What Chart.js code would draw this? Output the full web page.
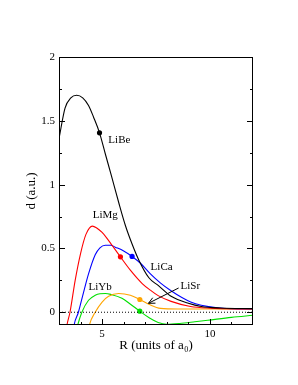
<!DOCTYPE html>
<html>
<head>
<meta charset="utf-8">
<script src="https://cdn.jsdelivr.net/npm/chart.js@4"></script>
<style>body{margin:0;background:#fff}</style>
</head>
<body>
<canvas id="c" width="298" height="385"></canvas>
<script>
// LiBe (black)
const beX = [3.0, 3.28, 3.55, 3.82, 4.1, 4.37, 4.6, 4.88, 5.15, 5.43, 5.77, 6.08, 6.39, 6.7, 7.17, 7.6, 7.94, 8.2, 9.0, 9.6, 10.5, 12];
const beY = [1.36, 1.60, 1.68, 1.70, 1.68, 1.62, 1.53, 1.406, 1.24, 1.07, 0.86, 0.68, 0.535, 0.41, 0.27, 0.21, 0.16, 0.125, 0.07, 0.045, 0.033, 0.028];
// LiMg (red)
const mgX = [3.2, 3.37, 3.51, 3.75, 4.0, 4.25, 4.55, 4.75, 5.0, 5.2, 5.46, 5.85, 6.31, 6.86, 7.24, 7.6, 8.2, 9.1, 10, 12];
const mgY = [-0.3, -0.1, 0, 0.25, 0.46, 0.61, 0.675, 0.66, 0.625, 0.585, 0.525, 0.434, 0.33, 0.225, 0.173, 0.13, 0.085, 0.045, 0.032, 0.025];
// LiCa (blue)
const caX = [3.55, 3.7, 3.9, 4.1, 4.37, 4.68, 4.9, 5.15, 5.4, 5.61, 6.0, 6.39, 6.78, 7.24, 7.7, 8.18, 8.7, 9.11, 9.6, 10.35, 11, 12];
const caY = [-0.3, -0.1, 0, 0.13, 0.30, 0.45, 0.505, 0.525, 0.525, 0.51, 0.48, 0.437, 0.384, 0.30, 0.23, 0.17, 0.115, 0.08, 0.055, 0.035, 0.028, 0.025];
// LiSr (orange)
const srX = [4.2, 4.41, 4.68, 5.0, 5.3, 5.77, 6.31, 6.75, 7.2, 7.71, 8.5, 10, 12];
const srY = [-0.3, -0.1, 0, 0.08, 0.125, 0.147, 0.133, 0.10, 0.06, 0.03, 0.025, 0.025, 0.025];
// LiYb (green)
const ybX = [3.6, 3.87, 4.06, 4.37, 4.68, 4.9, 5.15, 5.4, 5.92, 6.3, 6.75, 7.2, 7.6, 8.0, 8.6, 9.3, 9.9, 11, 12];
const ybY = [-0.3, -0.1, 0, 0.094, 0.133, 0.145, 0.147, 0.14, 0.11, 0.065, 0.008, -0.045, -0.08, -0.094, -0.088, -0.075, -0.063, -0.04, -0.024];
// marked points
const markX = [4.88, 5.85, 6.39, 6.75, 6.75];
const markY = [1.406, 0.434, 0.437, 0.10, 0.008];
const markColors = ['#000000', '#ff0000', '#0000ff', '#ffa500', '#00e000'];
// zero reference line
const zeroX = [3, 12];
const zeroY = [0, 0];
// tick labels
const xTicks = [5, 10];
const yTicks = [0, 0.5, 1, 1.5, 2];

const pts = (xs, ys) => xs.map((v, i) => ({x: v, y: ys[i]}));
const curve = (xs, ys, color) => ({
  data: pts(xs, ys), showLine: true, borderColor: color, borderWidth: 1.1,
  pointRadius: 0, cubicInterpolationMode: 'monotone', fill: false
});

const serif = '"Liberation Serif", "DejaVu Serif", serif';

const notes = [
  {t: 'LiBe', x: 5.29, y: 1.35, align: 'left'},
  {t: 'LiMg', x: 5.15, y: 0.76, align: 'center'},
  {t: 'LiYb', x: 4.91, y: 0.196, align: 'center'},
  {t: 'LiCa', x: 7.76, y: 0.354, align: 'center'},
  {t: 'LiSr', x: 8.64, y: 0.204, align: 'left'}
];

const frame = {
  id: 'frame',
  afterDatasetsDraw(chart) {
    const {ctx, chartArea: a, scales: {x, y}} = chart;
    ctx.save();
    ctx.strokeStyle = '#000';
    ctx.lineWidth = 1;
    ctx.strokeRect(a.left + 0.5, a.top + 0.5, a.right - a.left - 1, a.bottom - a.top - 1);
    ctx.beginPath();
    for (let v = 4; v < 12; v++) {
      const p = Math.round(x.getPixelForValue(v)) + 0.5;
      const l = v % 5 ? 3 : 6;
      ctx.moveTo(p, a.bottom); ctx.lineTo(p, a.bottom - l);
    }
    for (let i = 0; i < 8; i++) {
      const p = Math.round(y.getPixelForValue(i * 0.25)) + 0.5;
      const l = i % 2 ? 3 : 6;
      ctx.moveTo(a.left, p); ctx.lineTo(a.left + l, p);
      ctx.moveTo(a.right, p); ctx.lineTo(a.right - l, p);
    }
    ctx.stroke();

    ctx.fillStyle = '#000';
    ctx.font = '11px ' + serif;
    ctx.textBaseline = 'middle';
    notes.forEach(n => {
      ctx.textAlign = n.align;
      ctx.fillText(n.t, x.getPixelForValue(n.x), y.getPixelForValue(n.y));
    });

    // arrow from LiSr label to its curve
    const x0 = x.getPixelForValue(8.55), y0 = y.getPixelForValue(0.19);
    const x1 = x.getPixelForValue(7.15), y1 = y.getPixelForValue(0.07);
    const ang = Math.atan2(y1 - y0, x1 - x0);
    ctx.beginPath();
    ctx.moveTo(x0, y0); ctx.lineTo(x1, y1);
    [-0.45, 0.45].forEach(d => {
      ctx.moveTo(x1, y1);
      ctx.lineTo(x1 - 7 * Math.cos(ang + d), y1 - 7 * Math.sin(ang + d));
    });
    ctx.stroke();
    ctx.restore();
  }
};

new Chart(document.getElementById('c'), {
  type: 'scatter',
  data: {
    datasets: [
      {data: pts(zeroX, zeroY), showLine: true, borderColor: '#000', borderWidth: 1,
       borderDash: [1, 2], pointRadius: 0},
      curve(beX, beY, '#000000'),
      curve(mgX, mgY, '#ff0000'),
      curve(caX, caY, '#0000ff'),
      curve(srX, srY, '#ffa500'),
      curve(ybX, ybY, '#00e000'),
      {data: pts(markX, markY), pointRadius: 2.6, pointBackgroundColor: markColors,
       pointBorderColor: markColors, pointBorderWidth: 0, showLine: false}
    ]
  },
  options: {
    responsive: false,
    animation: false,
    devicePixelRatio: 1,
    layout: {padding: {left: 24, right: 45, top: 57, bottom: 28}},
    plugins: {legend: {display: false}, tooltip: {enabled: false}},
    scales: {
      x: {
        type: 'linear', min: 3, max: 12,
        grid: {display: false, drawTicks: false}, border: {display: false},
        afterBuildTicks: s => { s.ticks = xTicks.map(v => ({value: v})); },
        afterFit: s => { s.height = 32; },
        ticks: {color: '#000', padding: 3, maxRotation: 0, font: {family: serif, size: 11},
                callback: v => String(v)},
        title: {display: true, text: 'R (units of a₀)', color: '#000', padding: {top: 0, bottom: 4},
                font: {family: serif, size: 13}}
      },
      y: {
        type: 'linear', min: -0.1, max: 2,
        grid: {display: false, drawTicks: false}, border: {display: false},
        afterBuildTicks: s => { s.ticks = yTicks.map(v => ({value: v})); },
        afterFit: s => { s.width = 35; },
        ticks: {color: '#000', padding: 4, font: {family: serif, size: 11},
                callback: v => String(v)},
        title: {display: true, text: 'd (a.u.)', color: '#000', padding: 0,
                font: {family: serif, size: 13}}
      }
    }
  },
  plugins: [frame]
});
</script>
</body>
</html>
